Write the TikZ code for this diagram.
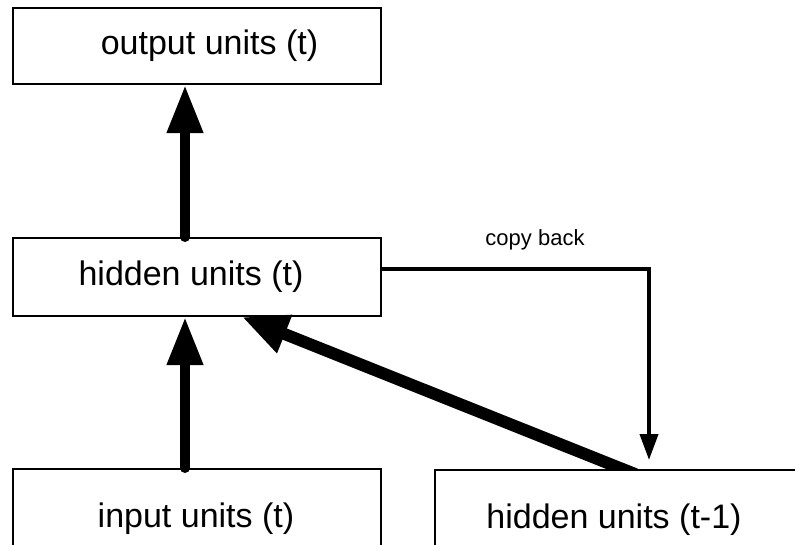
\documentclass[tikz,border=0pt]{standalone}
\usepackage{fontspec}
\setmainfont{Liberation Sans}
\usetikzlibrary{arrows.meta,calc}
\begin{document}
\begin{tikzpicture}[x=1pt,y=-1pt,
  box/.style={draw=black,line width=2pt,rectangle,inner sep=0pt,
    font=\fontsize{34}{40}\selectfont},
  bigarrow/.style={line width=10pt,line cap=round,
    -{Triangle[length=48pt,width=34pt]}},
  diagarrow/.style={line width=12pt,line cap=round,
    -{Triangle[length=46pt,width=38pt]}},
  thinarrow/.style={line width=4pt,line cap=round,line join=miter,
    -{Triangle[length=26pt,width=18pt]}},
  lbl/.style={font=\fontsize{22}{26}\selectfont,inner sep=0pt}]
\useasboundingbox (0,0) rectangle (795,544);
\clip (0,0) rectangle (795,544);
\fill[white] (0,0) rectangle (795,544);
\node[box,minimum width=368pt,minimum height=76pt] (out) at (197,46)
  {\hspace*{25pt}output units (t)};
\node[box,minimum width=368pt,minimum height=78pt] (hid) at (197,277)
  {hidden units (t)\hspace*{12pt}};
\node[box,minimum width=368pt,minimum height=100pt] (inp) at (197,519)
  {input units (t)\hspace*{2pt}};
\node[box,minimum width=386pt,minimum height=100pt,anchor=north west] (hid1) at (434,469)
  {\hspace*{-28pt}hidden units (t-1)};
\node[lbl] (cb) at (535,240) {copy back};
\draw[bigarrow] ($(hid.north west)+(173,0)$) -- ($(out.south west)+(173,0)$);
\draw[bigarrow] ($(inp.north west)+(173,0)$) -- ($(hid.south west)+(173,0)$);
\begin{scope}
  \clip (0,0) rectangle (795,468);
  \draw[diagarrow] ($(hid1.north west)+(201,5)$) -- ($(hid.south west)+(230,0)$);
\end{scope}
\coordinate (cbend) at ($(hid1.north west)+(215,-9)$);
\draw[thinarrow] ($(hid.east)+(0,-8)$) -| (cbend);
\end{tikzpicture}
\end{document}
